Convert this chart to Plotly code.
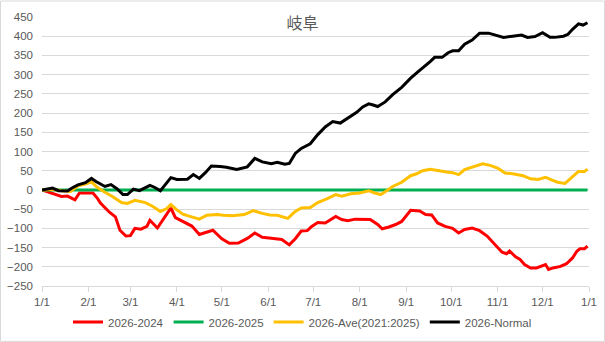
import pandas as pd
import plotly.graph_objects as go

# ---- data (day offset from 2026-01-01, value) ----
red_days = [0, 6, 10, 13, 17, 22, 25, 31, 34, 37, 39, 45, 49, 52, 56, 59, 62, 66, 70, 72, 77, 82, 86, 89, 94,
            100, 105, 111, 114, 120, 125, 131, 137, 142, 147, 153, 160, 165, 169, 173, 177, 180, 184, 189, 196,
            200, 204, 209, 214, 219, 224, 227, 231, 236, 240, 246, 252, 256, 260, 264, 269, 274, 278, 282, 287,
            292, 297, 302, 307, 310, 312, 316, 319, 322, 326, 330, 336, 338, 341, 346, 350, 354, 357, 359, 362, 364]
red_vals = [0, -8, -12, -17, -16, -26, -8, -8, -8, -22, -34, -58, -70, -105, -120, -119, -100, -102, -95, -79, -99,
            -70, -47, -72, -83, -94, -116, -108, -105, -127, -139, -138, -126, -112, -123, -126, -129, -143, -127,
            -107, -106, -95, -85, -86, -69, -77, -80, -76, -77, -77, -90, -101, -97, -90, -82, -53, -55, -64, -65,
            -86, -95, -100, -112, -103, -99, -106, -120, -142, -162, -166, -159, -174, -181, -194, -203, -203, -194,
            -207, -203, -199, -192, -177, -159, -153, -153, -146]

green_days = [0, 364]
green_vals = [0, 0]

ave_days = [0, 7, 13, 19, 24, 29, 33, 37, 42, 47, 53, 57, 62, 69, 74, 79, 83, 86, 90, 94, 97, 105, 110, 117, 121,
            127, 135, 141, 147, 152, 157, 164, 169, 173, 179, 184, 190, 196, 200, 206, 212, 218, 222, 226, 230, 234,
            240, 246, 250, 254, 259, 264, 271, 274, 278, 282, 288, 294, 299, 304, 309, 314, 321, 326, 331, 336, 340,
            344, 349, 354, 358, 362, 364]
ave_vals = [0, 2, -2, -4, 11, 15, 21, 6, -6, -17, -33, -35, -27, -33, -43, -56, -49, -38, -52, -63, -67, -76, -66,
            -64, -66, -67, -64, -54, -61, -65, -66, -74, -56, -47, -46, -33, -23, -12, -16, -10, -8, -2, -8, -12, -2,
            9, 20, 37, 42, 50, 54, 50, 46, 45, 40, 53, 60, 68, 64, 57, 44, 42, 37, 29, 27, 33, 26, 20, 17, 33, 48,
            48, 54]

normal_days = [0, 5, 7, 11, 17, 20, 24, 29, 33, 36, 42, 46, 50, 54, 57, 61, 65, 72, 75, 79, 82, 86, 90, 97, 101,
               105, 109, 113, 119, 123, 130, 137, 142, 147, 153, 157, 162, 165, 169, 173, 179, 184, 189, 194, 199,
               204, 210, 214, 218, 221, 224, 229, 234, 240, 246, 251, 254, 259, 262, 267, 271, 274, 278, 282, 287,
               292, 298, 302, 308, 314, 320, 324, 329, 334, 339, 342, 348, 351, 354, 358, 361, 364]
normal_vals = [0, 3, 5, -2, -3, 5, 13, 19, 30, 22, 9, 14, 3, -12, -12, 2, -2, 12, 7, -2, 13, 32, 27, 28, 40, 30,
               45, 62, 61, 59, 53, 60, 82, 73, 68, 72, 67, 69, 95, 108, 120, 144, 164, 178, 174, 187, 202, 216, 224,
               221, 217, 229, 248, 267, 291, 308, 317, 334, 345, 345, 357, 362, 362, 379, 390, 408, 408, 403, 397,
               400, 403, 397, 399, 409, 397, 397, 400, 405, 418, 432, 429, 435]

series_names = ["2026-2024", "2026-2025", "2026-Ave(2021:2025)", "2026-Normal"]
series_colors = ["#FF0000", "#00B050", "#FFC000", "#000000"]

tick_dates = ["2026-%02d-01" % m for m in range(1, 13)] + ["2027-01-01"]
tick_labels = ["1/1", "2/1", "3/1", "4/1", "5/1", "6/1", "7/1", "8/1", "9/1", "10/1", "11/1", "12/1", "1/1"]

title_text = "岐阜"

base = pd.Timestamp("2026-01-01")


def to_dates(days):
    return base + pd.to_timedelta(days, unit="D")


fig = go.Figure()
for name, color, d, v in zip(series_names, series_colors,
                             [red_days, green_days, ave_days, normal_days],
                             [red_vals, green_vals, ave_vals, normal_vals]):
    fig.add_trace(go.Scatter(x=to_dates(d), y=v, mode="lines", name=name,
                             line=dict(color=color, width=3)))

grid = "#D9D9D9"
txt = "#595959"
W, H = 605, 342
ml, mr, mt, mb = 42, 16, 16.5, 56
pw, ph = W - ml - mr, H - mt - mb

fig.update_layout(
    width=W, height=H,
    margin=dict(l=ml, r=mr, t=mt, b=mb, autoexpand=False),
    paper_bgcolor="white", plot_bgcolor="white",
    font=dict(family="Liberation Sans, Arial, sans-serif", size=11, color=txt),
    title=dict(text=title_text, x=0.5, xanchor="center", y=1 - 23 / H, yanchor="middle",
               font=dict(family="Noto Sans CJK JP", size=16, color=txt)),
    showlegend=True,
    legend=dict(orientation="h", x=0.5, xanchor="center", xref="container",
                y=1 - 322 / H, yanchor="middle", yref="container",
                font=dict(size=11.5, color=txt), itemwidth=30, tracegroupgap=0,
                bgcolor="rgba(0,0,0,0)"),
    xaxis=dict(type="date", range=[tick_dates[0], tick_dates[-1]],
               tickvals=tick_dates, ticktext=tick_labels,
               showgrid=False, showline=True, linecolor=grid, linewidth=1,
               ticks="outside", ticklen=5, tickcolor=grid, tickfont=dict(size=11.5, color=txt),
               zeroline=False, fixedrange=True, automargin=False),
    yaxis=dict(range=[-250, 450], dtick=50, tick0=0,
               showgrid=True, gridcolor=grid, gridwidth=1, zeroline=False,
               showline=False, ticks="", ticklabelstandoff=8,
               tickfont=dict(size=11.5, color=txt), fixedrange=True, automargin=False),
    shapes=[dict(type="rect", xref="paper", yref="paper",
                 x0=(0.5 - ml) / pw, x1=(W - 0.5 - ml) / pw,
                 y0=(mt + ph - (H - 0.5)) / ph, y1=(mt + ph - 0.5) / ph,
                 line=dict(color=grid, width=1), layer="below")],
)

fig.write_html("out.html")
